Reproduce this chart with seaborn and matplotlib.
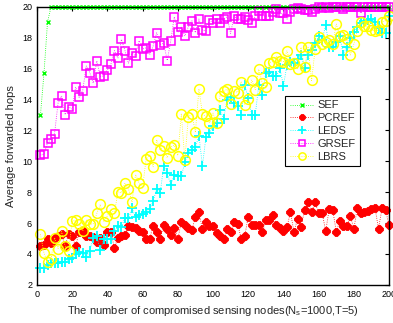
import matplotlib
matplotlib.use("Agg")
import matplotlib.pyplot as plt
import seaborn as sns

# number of compromised sensing nodes
nodes = list(range(2, 201, 2))

sef = [13.00, 15.70, 19.00, 20.00, 20.00, 20.00, 20.00, 20.00, 20.00, 20.00,
       20.00, 20.00, 20.00, 20.00, 20.00, 20.00, 20.00, 20.00, 20.00, 20.00,
       20.00, 20.00, 20.00, 20.00, 20.00, 20.00, 20.00, 20.00, 20.00, 20.00,
       20.00, 20.00, 20.00, 20.00, 20.00, 20.00, 20.00, 20.00, 20.00, 20.00,
       20.00, 20.00, 20.00, 20.00, 20.00, 20.00, 20.00, 20.00, 20.00, 20.00,
       20.00, 20.00, 20.00, 20.00, 20.00, 20.00, 20.00, 20.00, 20.00, 20.00,
       20.00, 20.00, 20.00, 20.00, 20.00, 20.00, 20.00, 20.00, 20.00, 20.00,
       20.00, 20.00, 20.00, 20.00, 20.00, 20.00, 20.00, 20.00, 20.00, 20.00,
       20.00, 20.00, 20.00, 20.00, 20.00, 20.00, 20.00, 20.00, 20.00, 20.00,
       20.00, 20.00, 20.00, 20.00, 20.00, 20.00, 20.00, 20.00, 20.00, 20.00]

pcref = [4.52, 4.55, 4.95, 4.70, 5.05, 5.15, 5.30, 4.50, 5.30, 5.15,
         4.50, 5.45, 5.55, 5.15, 5.15, 5.10, 4.75, 5.05, 4.55, 5.45,
         5.40, 4.40, 5.05, 5.15, 5.25, 5.80, 5.75, 5.65, 5.50, 5.40,
         4.95, 5.00, 5.80, 5.45, 5.00, 5.85, 5.60, 5.20, 5.70, 4.95,
         6.10, 5.85, 5.70, 5.55, 6.40, 6.70, 5.60, 6.05, 5.80, 5.80,
         5.35, 5.15, 4.95, 5.60, 5.40, 6.10, 5.95, 5.00, 5.15, 6.40,
         5.85, 5.85, 5.85, 5.40, 6.20, 6.20, 6.55, 5.85, 5.65, 5.50,
         5.75, 6.70, 5.42, 6.28, 5.76, 6.82, 7.35, 6.71, 7.35, 6.63,
         6.65, 5.48, 6.90, 6.85, 5.45, 6.13, 5.80, 5.80, 6.45, 5.64,
         7.00, 6.63, 6.70, 6.75, 6.88, 6.99, 5.64, 6.95, 6.85, 5.85]

leds = [3.12, 3.12, 3.27, 3.40, 3.44, 3.44, 3.48, 3.48, 3.66, 3.75,
        3.98, 4.13, 4.05, 3.81, 4.20, 5.06, 5.16, 4.26, 4.95, 4.95,
        4.95, 5.48, 5.81, 5.75, 6.35, 6.30, 6.95, 6.40, 6.50, 6.60,
        6.70, 6.90, 7.40, 8.22, 7.96, 9.68, 9.25, 8.45, 9.12, 9.05,
        9.03, 9.94, 10.54, 10.70, 10.90, 11.66, 9.72, 11.57, 11.83, 12.26,
        12.48, 13.34, 12.74, 13.98, 14.19, 13.80, 13.59, 13.01, 14.95, 14.09,
        13.01, 13.01, 14.95, 14.30, 15.74, 15.81, 15.50, 15.53, 16.03, 14.88,
        16.24, 16.45, 16.39, 16.60, 16.88, 16.03, 16.90, 17.20, 17.64, 18.11,
        17.85, 18.82, 17.38, 17.42, 17.74, 18.11, 16.88, 17.42, 18.00, 18.39,
        18.67, 18.97, 19.10, 19.14, 19.18, 19.03, 18.60, 18.28, 18.30, 19.40]

grsef = [10.41, 10.45, 11.19, 11.45, 11.79, 13.77, 14.24, 13.01, 13.51, 13.38,
         14.80, 14.13, 14.58, 16.17, 15.74, 15.06, 16.50, 15.48, 15.53, 15.92,
         16.28, 17.16, 16.67, 17.90, 17.16, 16.35, 16.99, 16.84, 17.81, 17.27,
         17.34, 16.90, 17.46, 18.32, 17.55, 17.64, 16.52, 17.79, 19.35, 18.35,
         18.71, 18.11, 18.71, 19.10, 18.32, 19.21, 18.50, 18.43, 19.14, 18.98,
         19.21, 18.92, 19.21, 19.35, 18.28, 19.41, 19.18, 19.21, 19.32, 19.14,
         18.92, 19.41, 19.72, 19.41, 19.40, 19.40, 19.68, 19.83, 19.57, 19.57,
         19.19, 19.68, 19.83, 19.90, 19.83, 19.78, 19.78, 19.68, 19.83, 19.96,
         19.90, 19.96, 19.90, 20.00, 20.00, 20.00, 19.83, 19.96, 20.00, 19.96,
         20.00, 19.57, 20.00, 20.00, 19.96, 20.00, 19.96, 20.00, 19.96, 20.00]

lbrs = [5.27, 4.05, 3.48, 3.70, 5.06, 4.35, 5.48, 4.52, 4.20, 6.13,
        6.17, 5.96, 5.48, 6.19, 5.92, 5.96, 6.63, 7.21, 6.09, 6.45,
        6.88, 6.63, 8.02, 7.96, 8.60, 8.22, 7.35, 9.14, 8.60, 8.28,
        10.15, 10.37, 9.64, 11.40, 10.75, 11.01, 10.22, 10.93, 11.05, 10.37,
        13.05, 10.11, 12.86, 13.05, 11.87, 14.69, 13.05, 12.90, 12.48, 13.12,
        12.48, 14.24, 14.52, 14.67, 13.72, 14.58, 14.45, 15.16, 13.66, 14.02,
        15.27, 14.63, 15.96, 15.06, 14.80, 16.39, 16.45, 16.77, 16.52, 16.45,
        17.16, 16.30, 16.39, 15.96, 17.38, 16.09, 17.38, 15.23, 17.25, 18.06,
        17.60, 17.74, 17.85, 17.60, 18.88, 18.11, 18.17, 17.90, 16.88, 17.60,
        18.45, 19.03, 18.75, 18.75, 18.50, 18.45, 18.50, 19.03, 19.10, 19.40]

sns.set_style("white")
plt.rcParams['font.family'] = ['Liberation Sans', 'DejaVu Sans']
plt.rcParams['mathtext.fontset'] = 'custom'
plt.rcParams['mathtext.rm'] = 'Liberation Sans'
plt.rcParams['mathtext.it'] = 'Liberation Sans'

fig = plt.figure(figsize=(3.93, 3.23), dpi=100)
ax = fig.add_axes([0.094, 0.118, 0.896, 0.861])

# marker styles, matlab-like
styles = {
    'SEF':   dict(color='#00ff00', marker='x', ms=3.5, mew=1.0, mfc='#00ff00'),
    'PCREF': dict(color='#ff0000', marker='8', ms=5.5, mew=0.6, mfc='#ff0000'),
    'LEDS':  dict(color='#00ffff', marker='+', ms=7.0, mew=1.3, mfc='#00ffff'),
    'GRSEF': dict(color='#ff00ff', marker='s', ms=5.5, mew=1.1, mfc='none'),
    'LBRS':  dict(color='#ffff00', marker='o', ms=7.0, mew=1.1, mfc='none'),
}
series = {'SEF': sef, 'PCREF': pcref, 'LEDS': leds, 'GRSEF': grsef, 'LBRS': lbrs}

for name, vals in series.items():
    st = styles[name]
    sns.lineplot(x=nodes, y=vals, ax=ax, label=name, color=st['color'],
                 linestyle=':', linewidth=0.6, marker=st['marker'],
                 markersize=st['ms'], markeredgewidth=st['mew'],
                 markerfacecolor=st['mfc'], markeredgecolor=st['color'],
                 clip_on=False)

ax.set_xlim(0, 200)
ax.set_ylim(2, 20)
ax.set_xticks(range(0, 201, 20))
ax.set_yticks(range(2, 21, 2))
ax.tick_params(direction='in', top=True, right=True, length=3, width=0.8,
               labelsize=6.5, colors='black')
for sp in ax.spines.values():
    sp.set_color('black')
    sp.set_linewidth(1.0)

ax.set_xlabel('The number of compromised sensing nodes(N$_\\mathrm{s}$=1000,T=5)', fontsize=8)
ax.set_ylabel('Average forwarded hops', fontsize=8)

leg = ax.legend(loc='upper left', bbox_to_anchor=(0.705, 0.679), frameon=True,
                fancybox=False, edgecolor='black', framealpha=1, borderaxespad=0,
                fontsize=8, handlelength=2.2, handletextpad=0.3,
                labelspacing=0.25, borderpad=0.4, markerscale=0.75)
leg.get_frame().set_linewidth(0.8)

fig.savefig('out.png', dpi=100)
